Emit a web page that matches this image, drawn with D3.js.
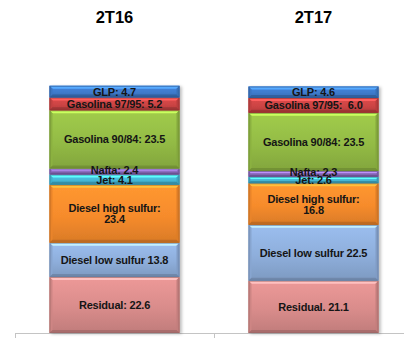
<!DOCTYPE html>
<html>
<head>
<meta charset="utf-8">
<script src="https://cdn.jsdelivr.net/npm/d3@7"></script>
<style>
  html, body { margin: 0; padding: 0; background: #fff; }
  svg { display: block; }
  .seg-label { font-family: "Liberation Sans", Arial, sans-serif; font-weight: bold; fill: #151515; letter-spacing: -0.2px; white-space: pre; }
  .title { font-family: "Liberation Sans", Arial, sans-serif; font-weight: bold; font-size: 16.5px; fill: #000; }
</style>
</head>
<body>
<svg id="chart" width="404" height="338"></svg>
<script>
// Periods shown as stacked columns
const periods = ["2T16", "2T17"];

// Products, stacked from the bottom up
const products = ["Residual", "Diesel low sulfur", "Diesel high sulfur", "Jet", "Nafta", "Gasolina 90/84", "Gasolina 97/95", "GLP"];

// Share of each product per period (%)
const values2T16 = [22.6, 13.8, 23.4, 4.1, 2.4, 23.5, 5.2, 4.7];
const values2T17 = [21.1, 22.5, 16.8, 2.6, 2.3, 23.5, 6.0, 4.6];

// Segment label text, one line per entry
const labels2T16 = [["Residual: 22.6"], ["Diesel low sulfur 13.8"], ["Diesel high sulfur:", "23.4"], ["Jet: 4.1"], ["Nafta: 2.4"], ["Gasolina 90/84: 23.5"], ["Gasolina 97/95: 5.2"], ["GLP: 4.7"]];
const labels2T17 = [["Residual. 21.1"], ["Diesel low sulfur 22.5"], ["Diesel high sulfur:", "16.8"], ["Jet: 2.6"], ["Nafta: 2.3"], ["Gasolina 90/84: 23.5"], ["Gasolina 97/95:  6.0"], ["GLP: 4.6"]];

const colors = ["#d98c8b", "#8eaedb", "#f68b2c", "#45b8d6", "#8d6cc0", "#93bb45", "#cc4444", "#3f7bcc"];

const valuesByPeriod = [values2T16, values2T17];
const labelsByPeriod = [labels2T16, labels2T17];

const svg = d3.select("#chart");
const defs = svg.append("defs");

// soft shadow behind the columns
const shadow = defs.append("filter").attr("id", "shadow")
  .attr("x", "-10%").attr("y", "-10%").attr("width", "120%").attr("height", "120%");
shadow.append("feDropShadow").attr("dx", 2).attr("dy", 1).attr("stdDeviation", 1.5)
  .attr("flood-color", "#000").attr("flood-opacity", 0.25);

// vertical gradient per product colour
colors.forEach((c, i) => {
  const g = defs.append("linearGradient").attr("id", "grad" + i)
    .attr("x1", 0).attr("y1", 0).attr("x2", 0).attr("y2", 1);
  g.append("stop").attr("offset", "0%").attr("stop-color", d3.color(c).brighter(0.25));
  g.append("stop").attr("offset", "55%").attr("stop-color", c);
  g.append("stop").attr("offset", "100%").attr("stop-color", d3.color(c).darker(0.35));
});

const x = d3.scaleBand().domain(periods).range([15, 413]).paddingInner(0).paddingOuter(0);
const barW = 130;
const y = d3.scaleLinear().domain([0, 100]).range([333, 85]);

// axis baseline and category separators
const axisColor = "#c4c4c4";
svg.append("line").attr("x1", x.range()[0]).attr("x2", 404).attr("y1", 333.5).attr("y2", 333.5)
  .attr("stroke", axisColor).attr("stroke-width", 1);
[x.range()[0], x(periods[1])].forEach(px => {
  svg.append("line").attr("x1", px + 0.5).attr("x2", px + 0.5).attr("y1", 333.5).attr("y2", 338)
    .attr("stroke", axisColor).attr("stroke-width", 1);
});

periods.forEach((p, pi) => {
  const vals = valuesByPeriod[pi];
  const labs = labelsByPeriod[pi];
  const cx = x(p) + x.bandwidth() / 2;
  const x0 = cx - barW / 2, x1 = cx + barW / 2;

  const stack = d3.stack().keys(d3.range(vals.length))([vals]);
  const segs = stack.map((s, i) => ({ i, lo: s[0][0], hi: s[0][1] }));

  const g = svg.append("g").attr("filter", "url(#shadow)");
  segs.forEach(s => {
    const yt = y(s.hi), yb = y(s.lo), h = yb - yt;
    const b = Math.min(3, h / 3);
    const c = colors[s.i];
    g.append("rect").attr("x", x0).attr("y", yt).attr("width", barW).attr("height", h)
      .attr("fill", `url(#grad${s.i})`);
    // bevelled edges: light top, shaded sides and bottom
    g.append("polygon")
      .attr("points", [[x0, yt], [x1, yt], [x1 - b, yt + b], [x0 + b, yt + b]].join(" "))
      .attr("fill", d3.color(c).brighter(0.9));
    g.append("polygon")
      .attr("points", [[x0, yt], [x0 + b, yt + b], [x0 + b, yb - b], [x0, yb]].join(" "))
      .attr("fill", d3.color(c).darker(0.15));
    g.append("polygon")
      .attr("points", [[x1, yt], [x1 - b, yt + b], [x1 - b, yb - b], [x1, yb]].join(" "))
      .attr("fill", d3.color(c).darker(0.3));
    g.append("polygon")
      .attr("points", [[x0, yb], [x1, yb], [x1 - b, yb - b], [x0 + b, yb - b]].join(" "))
      .attr("fill", d3.color(c).darker(0.7));
    g.append("rect").attr("x", x0 + 0.5).attr("y", yt + 0.5).attr("width", barW - 1).attr("height", h - 1)
      .attr("fill", "none").attr("stroke", d3.color(c).darker(0.9)).attr("stroke-width", 1).attr("stroke-opacity", 0.7);
  });

  // segment labels; the thin Nafta band sits just above Jet, so lift it a little
  segs.forEach(s => {
    const lines = labs[s.i];
    const mid = (y(s.hi) + y(s.lo)) / 2 + (products[s.i] === "Nafta" ? -1.5 : 0);
    const lh = 11;
    const t = svg.append("text").attr("class", "seg-label")
      .attr("x", cx).attr("text-anchor", "middle").style("font-size", "11px");
    lines.forEach((ln, li) => {
      t.append("tspan").attr("x", cx)
        .attr("y", mid + 4 + (li - (lines.length - 1) / 2) * lh)
        .text(ln);
    });
  });

  svg.append("text").attr("class", "title").attr("x", cx).attr("y", 23)
    .attr("text-anchor", "middle").text(p);
});
</script>
</body>
</html>
